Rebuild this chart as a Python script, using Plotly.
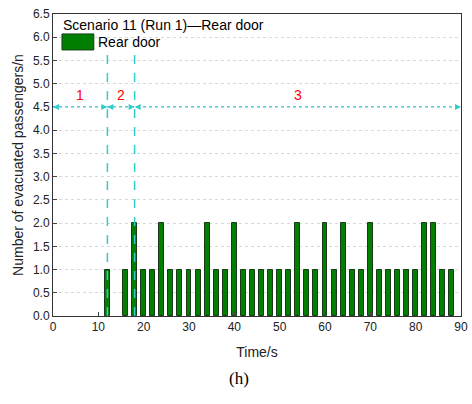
import plotly.graph_objects as go

times = [12, 16, 18, 20, 22, 24, 26, 28, 30, 32, 34, 36, 38, 40, 42, 44, 46, 48, 50,
         52, 54, 56, 58, 60, 62, 64, 66, 68, 70, 72, 74, 76, 78, 80, 82, 84, 86, 88]
passengers = [1, 1, 2, 1, 1, 2, 1, 1, 1, 1, 2, 1, 1, 2, 1, 1, 1, 1, 1,
              1, 2, 1, 1, 2, 1, 2, 1, 1, 2, 1, 1, 1, 1, 1, 2, 2, 1, 1]
phase_bounds = [0, 12, 18, 90]
phase_labels = ["1", "2", "3"]
y_ticks = [i * 0.5 for i in range(14)]
x_ticks = list(range(0, 91, 10))
legend_title = "Scenario 11 (Run 1)—Rear door"
series_name = "Rear door"

CYAN = "#33CCCC"
GREEN = "#007F00"
font = "Liberation Sans, Arial, sans-serif"

fig = go.Figure()
fig.add_trace(go.Bar(
    x=times, y=passengers, width=1.1, name=series_name, showlegend=False,
    marker=dict(color=GREEN, line=dict(color="#1a3a1a", width=1)),
))

shapes = []
annotations = []
# vertical dashed lines
for b in phase_bounds[1:3]:
    shapes.append(dict(type="line", x0=b, x1=b, y0=0, y1=5.7, xref="x", yref="y",
                       line=dict(color=CYAN, width=1.5, dash="dash")))
# horizontal dotted line
shapes.append(dict(type="line", x0=0, x1=90, y0=4.5, y1=4.5, xref="x", yref="y",
                   line=dict(color=CYAN, width=1.2, dash="dot")))
for i in range(3):
    a, b = phase_bounds[i], phase_bounds[i + 1]
    for tip, tail in ((a, a + 1.2), (b, b - 1.2)):
        annotations.append(dict(x=tip, y=4.5, ax=tail, ay=4.5, xref="x", yref="y",
                                axref="x", ayref="y", text="", showarrow=True,
                                arrowhead=2, arrowsize=1, arrowwidth=1.2,
                                arrowcolor=CYAN))
    annotations.append(dict(x=(a + b) / 2, y=4.5, xref="x", yref="y", text=phase_labels[i],
                            showarrow=False, yshift=12,
                            font=dict(color="#FF0000", size=14, family=font)))

# legend drawn manually (wide swatch as in the reference)
annotations.append(dict(x=0.02, y=0.964, xref="paper", yref="paper", text=legend_title,
                        showarrow=False, xanchor="left", yanchor="middle",
                        font=dict(size=14, family=font, color="black")))
shapes.append(dict(type="rect", x0=0.022, x1=0.10, y0=0.881, y1=0.934,
                   xref="paper", yref="paper",
                   fillcolor=GREEN, line=dict(color="#1a3a1a", width=1)))
annotations.append(dict(x=0.105, y=0.907, xref="paper", yref="paper", text=series_name,
                        showarrow=False, xanchor="left", yanchor="middle",
                        font=dict(size=14, family=font, color="black")))

annotations.append(dict(x=0.455, y=-0.168, xref="paper", yref="paper", text="(h)",
                        showarrow=False, yanchor="top",
                        font=dict(family="Liberation Serif, Times New Roman, serif",
                                  size=17, color="black")))

fig.update_layout(
    width=472, height=404,
    margin=dict(l=53, r=11, t=14, b=88),
    paper_bgcolor="white", plot_bgcolor="white",
    font=dict(family=font, size=12, color="#222222"),
    bargap=0,
    showlegend=False,
    shapes=shapes, annotations=annotations,
    xaxis=dict(range=[0, 90], tickvals=x_ticks, ticks="inside", ticklen=4,
               showline=True, linecolor="#333333", linewidth=1, mirror=True,
               showgrid=False, zeroline=False, automargin=False,
               title=dict(text="Time/s", font=dict(size=14), standoff=13)),
    yaxis=dict(range=[0, 6.5], tickvals=y_ticks, tickformat=".1f", ticks="inside", ticklen=4,
               showline=True, linecolor="#333333", linewidth=1, mirror=True,
               showgrid=True, gridcolor="#d8d8d8", griddash="dot", gridwidth=1,
               zeroline=False, automargin=False,
               title=dict(text="Number of evacuated passengers/n", font=dict(size=14), standoff=6)),
)

fig.write_html("out.html", config={"displayModeBar": False},
               post_script="document.body.style.margin='0';")
